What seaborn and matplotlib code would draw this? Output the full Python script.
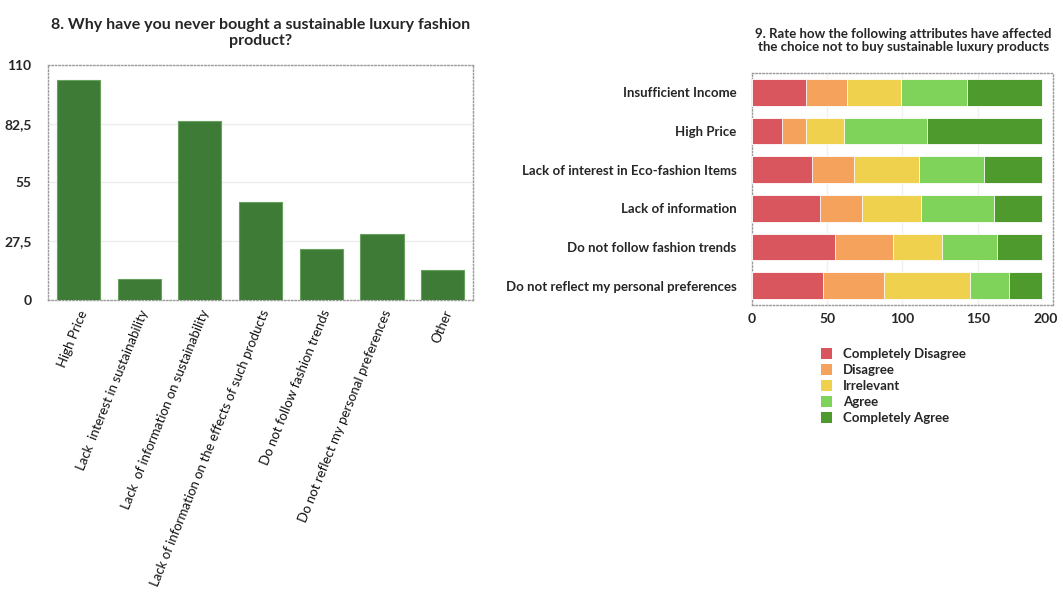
import matplotlib
matplotlib.use("Agg")
import matplotlib.pyplot as plt
from matplotlib.patches import Patch
import seaborn as sns
import pandas as pd
import numpy as np

# ---- data -------------------------------------------------------------
reasons = [
    "High Price",
    "Lack  interest in sustainability",
    "Lack  of information on sustainability",
    "Lack of information on the effects of such products",
    "Do not follow fashion trends",
    "Do not reflect my personal preferences",
    "Other",
]
reason_counts = [103, 10, 84, 46, 24, 31, 14]
reason_ticks = [0, 27.5, 55, 82.5, 110]
reason_tick_labels = ["0", "27,5", "55", "82,5", "110"]

attributes = [
    "Insufficient Income",
    "High Price",
    "Lack of interest in Eco-fashion Items",
    "Lack of information",
    "Do not follow fashion trends",
    "Do not reflect my personal preferences",
]
levels = ["Completely Disagree", "Disagree", "Irrelevant", "Agree", "Completely Agree"]
completely_disagree = [36, 20, 40, 45, 55, 47]
disagree = [27, 16, 28, 28, 39, 41]
irrelevant = [36, 25, 43, 39, 32, 57]
agree = [44, 55, 43, 49, 37, 26]
completely_agree = [50, 77, 39, 32, 30, 22]
level_colors = ["#d9565f", "#f4a25c", "#f0d14e", "#7fd35a", "#4e9a2c"]
rating_ticks = [0, 50, 100, 150, 200]

# ---- style ------------------------------------------------------------
sns.set_theme(style="white")
plt.rcParams["font.family"] = ["Lato", "DejaVu Sans"]

fig = plt.figure(figsize=(10.63, 5.99), dpi=100)
fig.patch.set_facecolor("white")

def dotted_frame(ax):
    for sp in ax.spines.values():
        sp.set_visible(True)
        sp.set_linestyle((0, (1, 1.5)))
        sp.set_color("#9a9a9a")
        sp.set_linewidth(1.0)

# ---- left: bar chart of reasons ---------------------------------------
ax1 = fig.add_axes([0.0452, 0.4992, 0.3998, 0.3923])
df1 = pd.DataFrame({"reason": reasons, "count": reason_counts})
sns.barplot(data=df1, x="reason", y="count", color="#3e7b36", width=0.71,
            edgecolor="#68a05e", linewidth=0.8, saturation=1, ax=ax1, zorder=3)
ax1.set_ylim(0, 110)
ax1.set_xlim(-0.5, len(reasons) - 0.5)
ax1.set_yticks(reason_ticks)
ax1.set_yticklabels(reason_tick_labels, fontsize=10, fontweight="bold")
for y in reason_ticks[1:-1]:
    ax1.axhline(y, color="#ededed", lw=1.0, zorder=1)
ax1.set_xticks(range(len(reasons)))
ax1.set_xticklabels(reasons, rotation=68, ha="right", rotation_mode="anchor",
                    fontsize=9.5, color="#111111")
ax1.tick_params(axis="both", length=0)
ax1.tick_params(axis="y", pad=12)
ax1.tick_params(axis="x", pad=6)
ax1.set_xlabel("")
ax1.set_ylabel("")
dotted_frame(ax1)
fig.text(0.245, 0.945,
         "8. Why have you never bought a sustainable luxury fashion\nproduct?",
         ha="center", va="center", fontsize=11.5, fontweight="bold",
         linespacing=1.15)

# ---- right: stacked horizontal bars of ratings ------------------------
ax2 = fig.add_axes([0.7074, 0.4908, 0.2832, 0.3873])
segments = np.array([completely_disagree, disagree, irrelevant, agree,
                     completely_agree])
cumulative = np.cumsum(segments, axis=0)
# draw running totals from the longest down so each level shows its own span
for i in range(len(levels) - 1, -1, -1):
    dfi = pd.DataFrame({"attribute": attributes, "total": cumulative[i]})
    sns.barplot(data=dfi, y="attribute", x="total", orient="h",
                color=level_colors[i], saturation=1, width=0.69,
                edgecolor="white", linewidth=0.6, ax=ax2, zorder=3)
ax2.set_xlim(0, 200)
ax2.set_ylim(len(attributes) - 0.5, -0.5)
ax2.set_xticks(rating_ticks)
# the last label sits at the figure edge, so it is placed by hand just inside
ax2.set_xticklabels([str(t) for t in rating_ticks[:-1]] + [""], fontsize=10,
                    fontweight="bold")
ax2.annotate(str(rating_ticks[-1]), xy=(rating_ticks[-1], 0),
             xycoords=("data", "axes fraction"), xytext=(-5, -6),
             textcoords="offset points", ha="center", va="top",
             fontsize=10, fontweight="bold", annotation_clip=False)
for x in rating_ticks[1:-1]:
    ax2.axvline(x, color="#f0f0f0", lw=1.0, zorder=1)
ax2.set_yticks(range(len(attributes)))
ax2.set_yticklabels(attributes, fontsize=9.5, fontweight="bold")
ax2.tick_params(axis="both", length=0)
ax2.tick_params(axis="y", pad=11)
ax2.tick_params(axis="x", pad=6)
ax2.set_xlabel("")
ax2.set_ylabel("")
dotted_frame(ax2)
fig.text(0.85, 0.932,
         "9. Rate how the following attributes have affected\n"
         "the choice not to buy sustainable luxury products",
         ha="center", va="center", fontsize=9.5, fontweight="bold",
         linespacing=1.15)

handles = [Patch(facecolor=c, edgecolor="none") for c in level_colors]
fig.legend(handles, levels, loc="upper left",
           bbox_to_anchor=(0.767, 0.428), frameon=False,
           handlelength=0.9, handleheight=0.9,
           handletextpad=0.8, labelspacing=0.3, borderaxespad=0,
           prop={"weight": "bold", "size": 9.5})

fig.savefig("out.png", dpi=100, facecolor="white")
